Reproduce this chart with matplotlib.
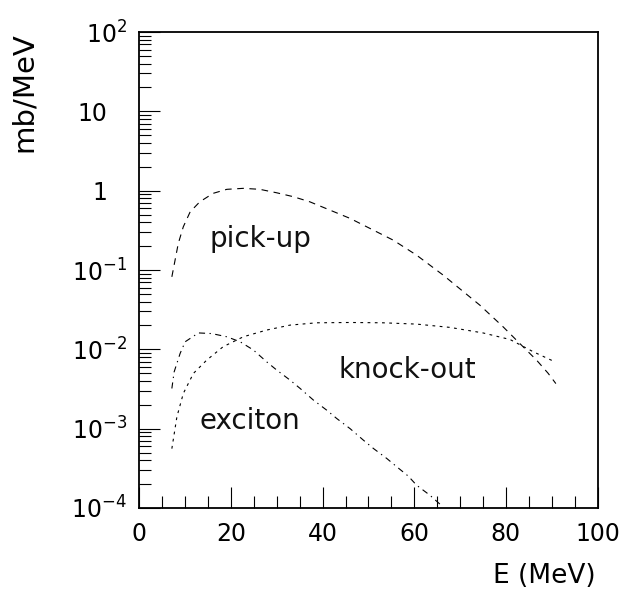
import matplotlib
matplotlib.use("Agg")
import matplotlib.pyplot as plt
import matplotlib.ticker as mticker
import matplotlib.transforms as mtransforms

plt.rcParams['font.family'] = ['DejaVu Sans']
plt.rcParams['mathtext.fontset'] = 'dejavusans'

# ---- data ----
pickup_x = [7.1, 7.8, 8.5, 9.6, 11.1, 13.2, 16.1, 19.1, 22.7, 26.3, 30.0, 33.6,
            37.2, 41.6, 46.0, 50.3, 55.4, 60.5, 66.3, 74.3, 79.4, 83.0, 86.7, 89.2, 90.9]
pickup_y = [0.082, 0.133, 0.216, 0.351, 0.542, 0.724, 0.925, 1.04, 1.07, 1.04, 0.94, 0.84,
            0.724, 0.569, 0.447, 0.335, 0.238, 0.154, 0.0863, 0.0361, 0.0192, 0.0119,
            0.0073, 0.0050, 0.0037]

knockout_x = [7.1, 8.2, 9.6, 11.8, 14.7, 18.3, 22.7, 27.8, 32.9, 38.7, 46.0, 53.2,
              60.5, 67.8, 75.0, 80.9, 86.0, 90.7]
knockout_y = [5.6e-4, 1.41e-3, 2.78e-3, 4.97e-3, 7.31e-3, 1.08e-2, 1.44e-2, 1.75e-2,
              2.02e-2, 2.16e-2, 2.18e-2, 2.16e-2, 2.08e-2, 1.89e-2, 1.61e-2, 1.33e-2,
              9.3e-3, 6.95e-3]

exciton_x = [7.1, 7.6, 8.9, 10.0, 12.9, 15.8, 19.1, 22.0, 24.9, 27.8, 30.0, 32.9, 35.1,
             38.0, 40.9, 43.1, 46.0, 48.9, 51.1, 54.0, 56.2, 58.7, 60.5, 63.4, 66.3]
exciton_y = [3.21e-3, 5.2e-3, 8.87e-3, 1.245e-2, 1.61e-2, 1.58e-2, 1.44e-2, 1.245e-2,
             9.8e-3, 6.95e-3, 5.47e-3, 4.09e-3, 3.21e-3, 2.29e-3, 1.71e-3, 1.34e-3,
             1.0e-3, 7.16e-4, 5.62e-4, 4.21e-4, 3.30e-4, 2.52e-4, 1.94e-4, 1.45e-4, 1.03e-4]

ytick_vals = [1e-4, 1e-3, 1e-2, 1e-1, 1, 10, 100]
ytick_labels = [r'$10^{-4}$', r'$10^{-3}$', r'$10^{-2}$', r'$10^{-1}$', '1', '10', r'$10^{2}$']
xtick_vals = [0, 20, 40, 60, 80, 100]
xtick_labels = ['0', '20', '40', '60', '80', '100']

labels = ['pick-up', 'knock-out', 'exciton']
label_pos = [(15.4, 0.196), (43.4, 0.0043), (13.2, 9.8e-4)]

# ---- figure ----
fig = plt.figure(figsize=(6.29, 5.94), dpi=100)
ax = fig.add_axes([0.2215, 0.1448, 0.7285, 0.8013])

ax.plot(pickup_x, pickup_y, color='black', lw=0.8, ls=(0, (6, 5)))
ax.plot(knockout_x, knockout_y, color='black', lw=0.8, ls=(0, (2.5, 4)))
ax.plot(exciton_x, exciton_y, color='black', lw=0.8, ls=(0, (5.5, 4, 1.2, 4)))

for txt, (tx, ty) in zip(labels, label_pos):
    ax.text(tx, ty, txt, fontsize=20, ha='left', va='baseline', color='#111111')

ax.set_yscale('log')
ax.set_xlim(0, 100)
ax.set_ylim(1e-4, 1e2)

ax.set_xticks(xtick_vals)
ax.set_xticklabels(xtick_labels)
ax.xaxis.set_minor_locator(mticker.MultipleLocator(5))
ax.set_yticks(ytick_vals)
ax.set_yticklabels(ytick_labels)
ax.yaxis.set_minor_locator(mticker.LogLocator(base=10, subs=range(2, 10), numticks=20))
ax.yaxis.set_minor_formatter(mticker.NullFormatter())

ax.tick_params(which='both', direction='in', top=False, right=False, width=0.8,
               color='black')
ax.tick_params(which='major', length=15, labelsize=17)
ax.tick_params(axis='x', which='major', pad=10)
ax.tick_params(axis='y', which='major', pad=9)
ax.tick_params(which='minor', length=8.5)

for sp in ax.spines.values():
    sp.set_linewidth(1.3)

# shift plain labels "1" and "10" left like the reference
for lab in ax.get_yticklabels():
    if lab.get_text() in ('1', '10'):
        lab.set_transform(lab.get_transform() +
                          mtransforms.ScaledTranslation(-0.20, 0, fig.dpi_scale_trans))

ax.set_xlabel('E (MeV)', fontsize=19, loc='right')
ax.xaxis.set_label_coords(0.995, -0.115)
ax.set_ylabel('mb/MeV', fontsize=21, loc='top')
ax.yaxis.set_label_coords(-0.222, 1.0)

fig.savefig('out.png', dpi=100)
